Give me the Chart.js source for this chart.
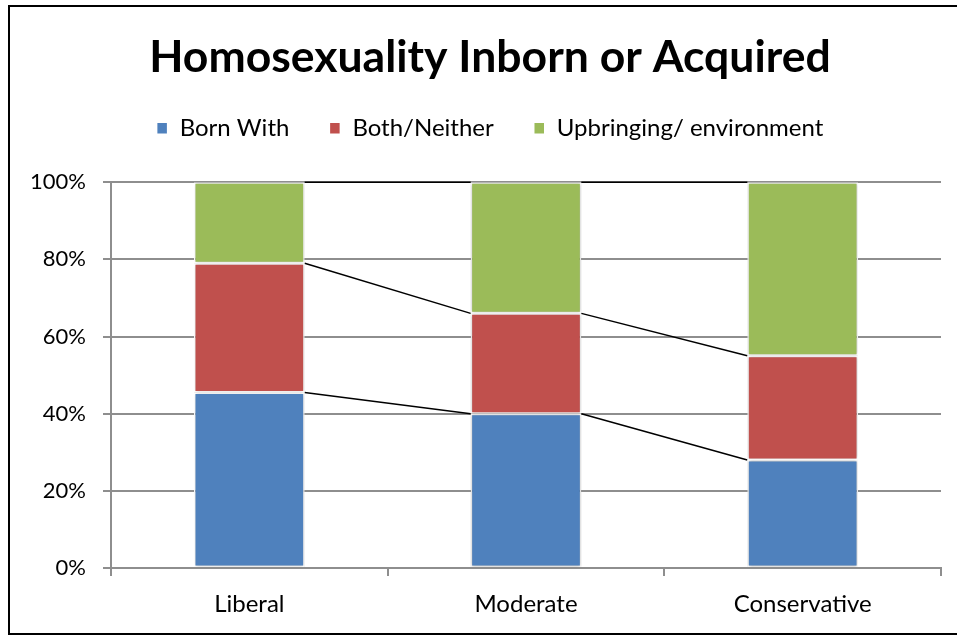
<!DOCTYPE html>
<html>
<head>
<meta charset="utf-8">
<script src="https://cdn.jsdelivr.net/npm/chart.js@4.4.1/dist/chart.umd.min.js"></script>
<style>
body{margin:0;overflow:hidden;background:#fff;width:957px;height:635px;position:relative}
#frame{position:absolute;left:8px;top:5px;width:1000px;height:626px;border:2px solid #000}
#chart{position:absolute;left:0;top:0}
</style>
</head>
<body>
<div id="frame"></div>
<canvas id="chart" width="980" height="635"></canvas>
<script>
const categories = ["Liberal", "Moderate", "Conservative"]
const born_with = [45.5, 40, 28]
const both_neither = [33.5, 26, 27]
const upbringing = [21, 34, 45]
const series_names = ["Born With", "Both/Neither", "Upbringing/ environment"]
const series_colors = ["#4F81BD", "#C0504D", "#9BBB59"]

const grid_color = '#8e8e8e'
const font_family = 'Lato, "Open Sans", sans-serif'

// excel style series lines between the stacked bars
const series_lines = {
    id: 'series_lines',
    beforeDraw(chart){
        // y labels sit left of the layout padding, don't clip them
        chart.scales.y._computeLabelArea = function(){ return undefined }
    },
    beforeDatasetsDraw(chart){
        const ctx = chart.ctx
        ctx.save()
        ctx.strokeStyle = '#000'
        ctx.lineWidth = 1.5
        chart.data.datasets.forEach((ds, d) => {
            const bars = chart.getDatasetMeta(d).data
            for(let i = 0; i < bars.length - 1; i++){
                const a = bars[i]
                const b = bars[i + 1]
                ctx.beginPath()
                ctx.moveTo(a.x + a.width / 2, a.y)
                ctx.lineTo(b.x - b.width / 2, b.y)
                ctx.stroke()
            }
        })
        ctx.restore()
        ctx.save()
        ctx.shadowColor = 'rgba(0,0,0,0.3)'
        ctx.shadowBlur = 3
    },
    afterDatasetsDraw(chart){
        chart.ctx.restore()
    }
}

// more room under the legend
const legend_gap = {
    id: 'legend_gap',
    beforeInit(chart){
        const fit = chart.legend.fit
        chart.legend.fit = function(){
            fit.bind(chart.legend)()
            this.height += 32
        }
    }
}

let data = {
    labels: categories,
    datasets: [
        {label: series_names[0], data: born_with, backgroundColor: series_colors[0]},
        {label: series_names[1], data: both_neither, backgroundColor: series_colors[1]},
        {label: series_names[2], data: upbringing, backgroundColor: series_colors[2]},
    ].map(ds => Object.assign(ds, {
        borderColor: '#fff',
        borderWidth: 1.5,
        borderSkipped: false,
        categoryPercentage: 1,
        barPercentage: 0.4,
    }))
}

let config = {
    type: 'bar',
    data: data,
    options: {
        responsive: false,
        animation: false,
        layout: {padding: {top: 40, left: 39, right: 39, bottom: 0}},
        plugins: {
            title: {
                display: true,
                text: 'Homosexuality Inborn or Acquired',
                color: '#000',
                font: {family: font_family, size: 44.5, weight: 'bold', lineHeight: 0.8},
                padding: {top: 0, bottom: 0.6}
            },
            legend: {
                display: true,
                labels: {
                    color: '#000',
                    font: {family: font_family, size: 24},
                    boxWidth: 11,
                    boxHeight: 12,
                    padding: 40
                }
            },
            tooltip: {enabled: false}
        },
        scales: {
            x: {
                stacked: true,
                grid: {display: true, drawOnChartArea: false, drawTicks: true, tickLength: 8,
                       color: grid_color, lineWidth: 2, offset: true},
                border: {display: true, color: grid_color, width: 2},
                ticks: {color: '#000', font: {family: font_family, size: 24}, padding: 14},
                afterFit: function(scale){ scale.height = 67 }
            },
            y: {
                stacked: true,
                min: 0,
                max: 100,
                grid: {color: grid_color, lineWidth: 2, tickLength: 8},
                border: {display: true, color: grid_color, width: 2},
                ticks: {
                    stepSize: 20,
                    color: '#000',
                    font: {family: font_family, size: 22},
                    padding: 17,
                    callback: function(value){
                        return value + '%'
                    }
                },
                afterFit: function(scale){ scale.width = 72 }
            }
        }
    },
    plugins: [series_lines, legend_gap]
}

const chart = new Chart(document.getElementById('chart').getContext('2d'), config)
</script>
</body>
</html>
